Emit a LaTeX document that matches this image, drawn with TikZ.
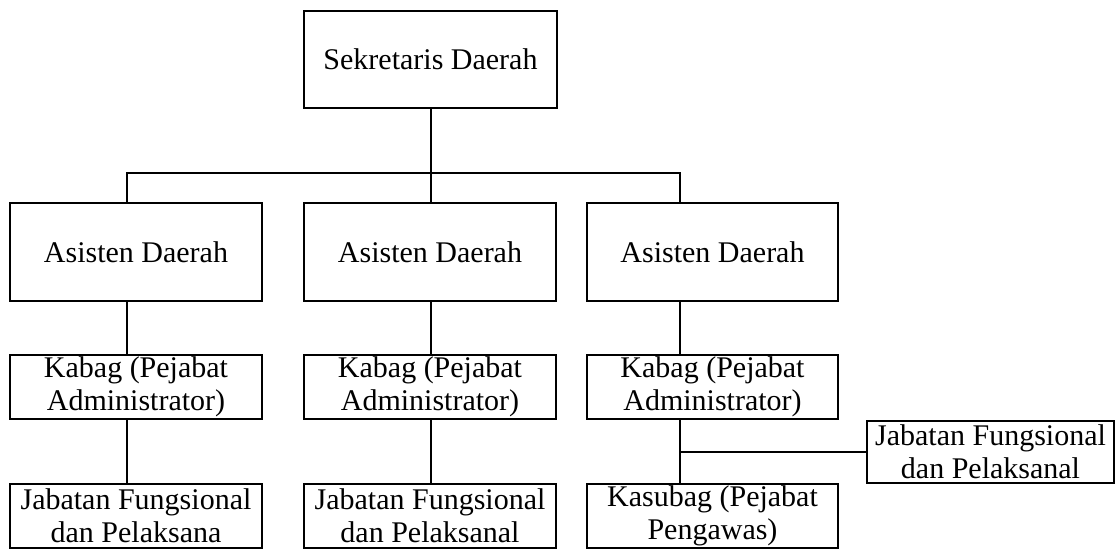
\documentclass[tikz,border=0pt]{standalone}
\usepackage{fontspec}
\setmainfont{Liberation Serif}
\usepackage{tikz}

\begin{document}
\begin{tikzpicture}[x=0.5pt,y=-0.5pt,
	box/.style={draw=black,line width=1.3pt,rectangle,inner sep=0pt,align=center,font=\fontsize{15}{16.5}\selectfont},
	link/.style={draw=black,line width=1.3pt}]
	\useasboundingbox (0,0) rectangle (1115,550);

	\node[box,minimum width=126.5pt,minimum height=48.5pt] (sekda) at (430.5,59.5) {Sekretaris Daerah};

	\node[box,minimum width=126pt,minimum height=49pt] (asis1) at (136,252) {Asisten Daerah};
	\node[box,minimum width=126pt,minimum height=49pt] (asis2) at (430,252) {Asisten Daerah};
	\node[box,minimum width=125.5pt,minimum height=49pt] (asis3) at (712.5,252) {Asisten Daerah};

	\node[box,minimum width=126pt,minimum height=32pt] (kabag1) at (136,387) {Kabag (Pejabat\\Administrator)};
	\node[box,minimum width=126pt,minimum height=32pt] (kabag2) at (430,387) {Kabag (Pejabat\\Administrator)};
	\node[box,minimum width=125.5pt,minimum height=32pt] (kabag3) at (712.5,387) {Kabag (Pejabat\\Administrator)};

	\node[box,minimum width=126pt,minimum height=32pt] (jf1) at (136,516) {Jabatan Fungsional\\dan Pelaksana};
	\node[box,minimum width=126pt,minimum height=32pt] (jf2) at (430,516) {Jabatan Fungsional\\dan Pelaksanal};
	\node[box,minimum width=125.5pt,minimum height=32pt] (kasubag) at (712.5,516) {Kasubag (Pejabat\\Pengawas)};
	\node[box,minimum width=123.5pt,minimum height=31pt] (jf3) at (990.5,452) {Jabatan Fungsional\\dan Pelaksanal};

	\coordinate (bus) at (431,173);
	\coordinate (d1) at (127,173);
	\coordinate (d3) at (680,173);
	\coordinate (fork) at (680,452);

	\path[link] (sekda.south -| bus) -- (bus);
	\path[link] (d1 |- asis1.north) -- (d1) -- (d3) -- (d3 |- asis3.north);
	\path[link] (bus) -- (bus |- asis2.north);

	\path[link] (d1 |- asis1.south) -- (d1 |- kabag1.north);
	\path[link] (bus |- asis2.south) -- (bus |- kabag2.north);
	\path[link] (d3 |- asis3.south) -- (d3 |- kabag3.north);

	\path[link] (d1 |- kabag1.south) -- (d1 |- jf1.north);
	\path[link] (bus |- kabag2.south) -- (bus |- jf2.north);
	\path[link] (d3 |- kabag3.south) -- (d3 |- kasubag.north);
	\path[link] (fork) -- (jf3.west);

\end{tikzpicture}
\end{document}
